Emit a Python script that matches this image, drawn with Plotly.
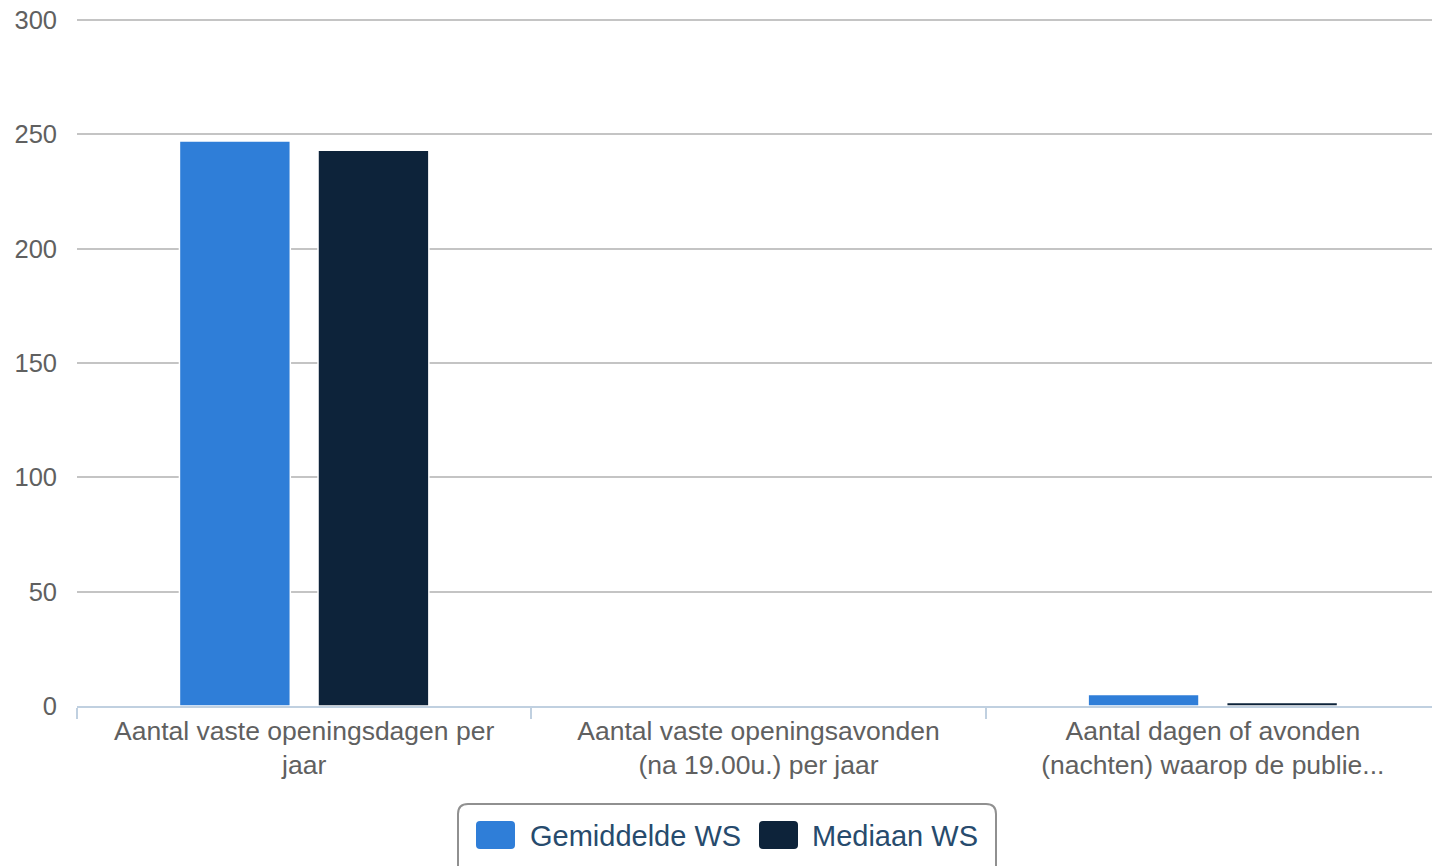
import plotly.graph_objects as go

categories = [
    "Aantal vaste openingsdagen per<br>jaar",
    "Aantal vaste openingsavonden<br>(na 19.00u.) per jaar",
    "Aantal dagen of avonden<br>(nachten) waarop de publie...",
]
series_names = ["Gemiddelde WS", "Mediaan WS"]
series_colors = ["#2f7ed8", "#0d233a"]
gemiddelde = [247, 0, 5]
mediaan = [243, 0, 1.5]
y_ticks = [0, 50, 100, 150, 200, 250, 300]

FONT = "Liberation Sans, Arial, sans-serif"
W, H = 1440, 866
ML, MR, MT, MB = 77, 0, 13, 160
PW, PH = W - ML - MR, H - MT - MB


def px(x):
    return (x - ML) / PW


def py(y):
    return (H - MB - y) / PH


def rounded_rect(x0, y0, x1, y1, r):
    X0, X1 = px(x0), px(x1)
    Y0, Y1 = py(y0), py(y1)
    rx, ry = r / PW, r / PH
    return (f"M {X0+rx},{Y0} L {X1-rx},{Y0} Q {X1},{Y0} {X1},{Y0-ry} "
            f"L {X1},{Y1+ry} Q {X1},{Y1} {X1-rx},{Y1} L {X0+rx},{Y1} "
            f"Q {X0},{Y1} {X0},{Y1+ry} L {X0},{Y0-ry} Q {X0},{Y0} {X0+rx},{Y0} Z")


fig = go.Figure()
for name, vals, col in zip(series_names, [gemiddelde, mediaan], series_colors):
    fig.add_trace(go.Bar(x=categories, y=vals, name=name, showlegend=False,
                         marker=dict(color=col, line=dict(color="#ffffff", width=1.5))))

shapes = [dict(type="path", xref="paper", yref="paper",
               path=rounded_rect(458, 804, 996, 880, 10),
               line=dict(color="#909090", width=2), fillcolor="white", layer="above")]
annotations = []
legend_items = [(476, 528), (759, 810)]
for (sx, tx), name, col in zip(legend_items, series_names, series_colors):
    shapes.append(dict(type="path", xref="paper", yref="paper",
                       path=rounded_rect(sx, 821, sx + 39, 849, 4),
                       line=dict(width=0), fillcolor=col, layer="above"))
    annotations.append(dict(xref="paper", yref="paper", x=px(tx), y=py(836),
                            xanchor="left", yanchor="middle", showarrow=False,
                            text=name, font=dict(size=29, color="#274b6d", family=FONT)))

fig.update_layout(
    width=W, height=H,
    paper_bgcolor="white", plot_bgcolor="white",
    margin=dict(l=ML, r=MR, t=MT, b=MB),
    barmode="group", bargap=0.39, bargroupgap=0.2,
    font=dict(family=FONT, size=25, color="#606060"),
    showlegend=False,
    shapes=shapes, annotations=annotations,
    xaxis=dict(showgrid=False, showline=True, linecolor="#c0d0e0", linewidth=2,
               ticks="outside", tickson="boundaries", ticklen=11, tickcolor="#c0d0e0",
               tickwidth=2, tickfont=dict(size=26.5, color="#606060"),
               automargin=False, fixedrange=True),
    yaxis=dict(range=[0, 303], tickvals=y_ticks, showgrid=True, gridcolor="#c4c4c4",
               gridwidth=2, zeroline=False, showline=False, ticks="",
               tickfont=dict(size=25.5, color="#606060"), ticklabelstandoff=19,
               automargin=False, fixedrange=True),
)

fig.write_html("out.html", config={"displayModeBar": False},
               post_script="document.body.style.margin='0';document.body.style.overflow='hidden';")
